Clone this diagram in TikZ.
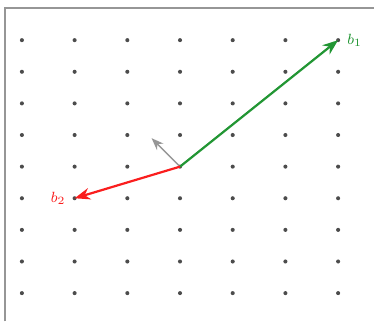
\documentclass[tikz,border=0pt]{standalone}
\usepackage{xcolor}
\usetikzlibrary{arrows.meta,positioning,calc}
\definecolor{bvGreen}{RGB}{34,150,52}
\definecolor{bvRed}{RGB}{250,30,30}
\definecolor{bvGray}{RGB}{150,150,150}
\colorlet{dotgray}{black!70}

\begin{document}
\begin{tikzpicture}[x=1cm,y=0.6cm,>=Stealth]
\useasboundingbox (-3.416,-4.89) rectangle (3.681,5.27);
\draw[bvGray,line width=0.9pt] (-3.32,-4.89) -- (-3.32,5.016) -- (3.681,5.016);
\foreach \i in {-3,...,3}
  \foreach \j in {-4,...,4}
    \fill[dotgray] (\i,\j) circle (1.1pt);
\coordinate (O) at (0,0);
\coordinate (b1) at (3,4);
\coordinate (b2) at (-2,-1);
\coordinate (g) at (-0.54,0.9);
\draw[->,bvGray,thick] (O) -- (g);
\draw[->,bvGreen,very thick] (O) -- (b1);
\draw[->,bvRed,very thick] (O) -- (b2);
\node[bvGreen,right=0.05cm of b1,font=\footnotesize] (l1) {$b_1$};
\node[bvRed,left=0.05cm of b2,font=\footnotesize] (l2) {$b_2$};
\end{tikzpicture}
\end{document}
